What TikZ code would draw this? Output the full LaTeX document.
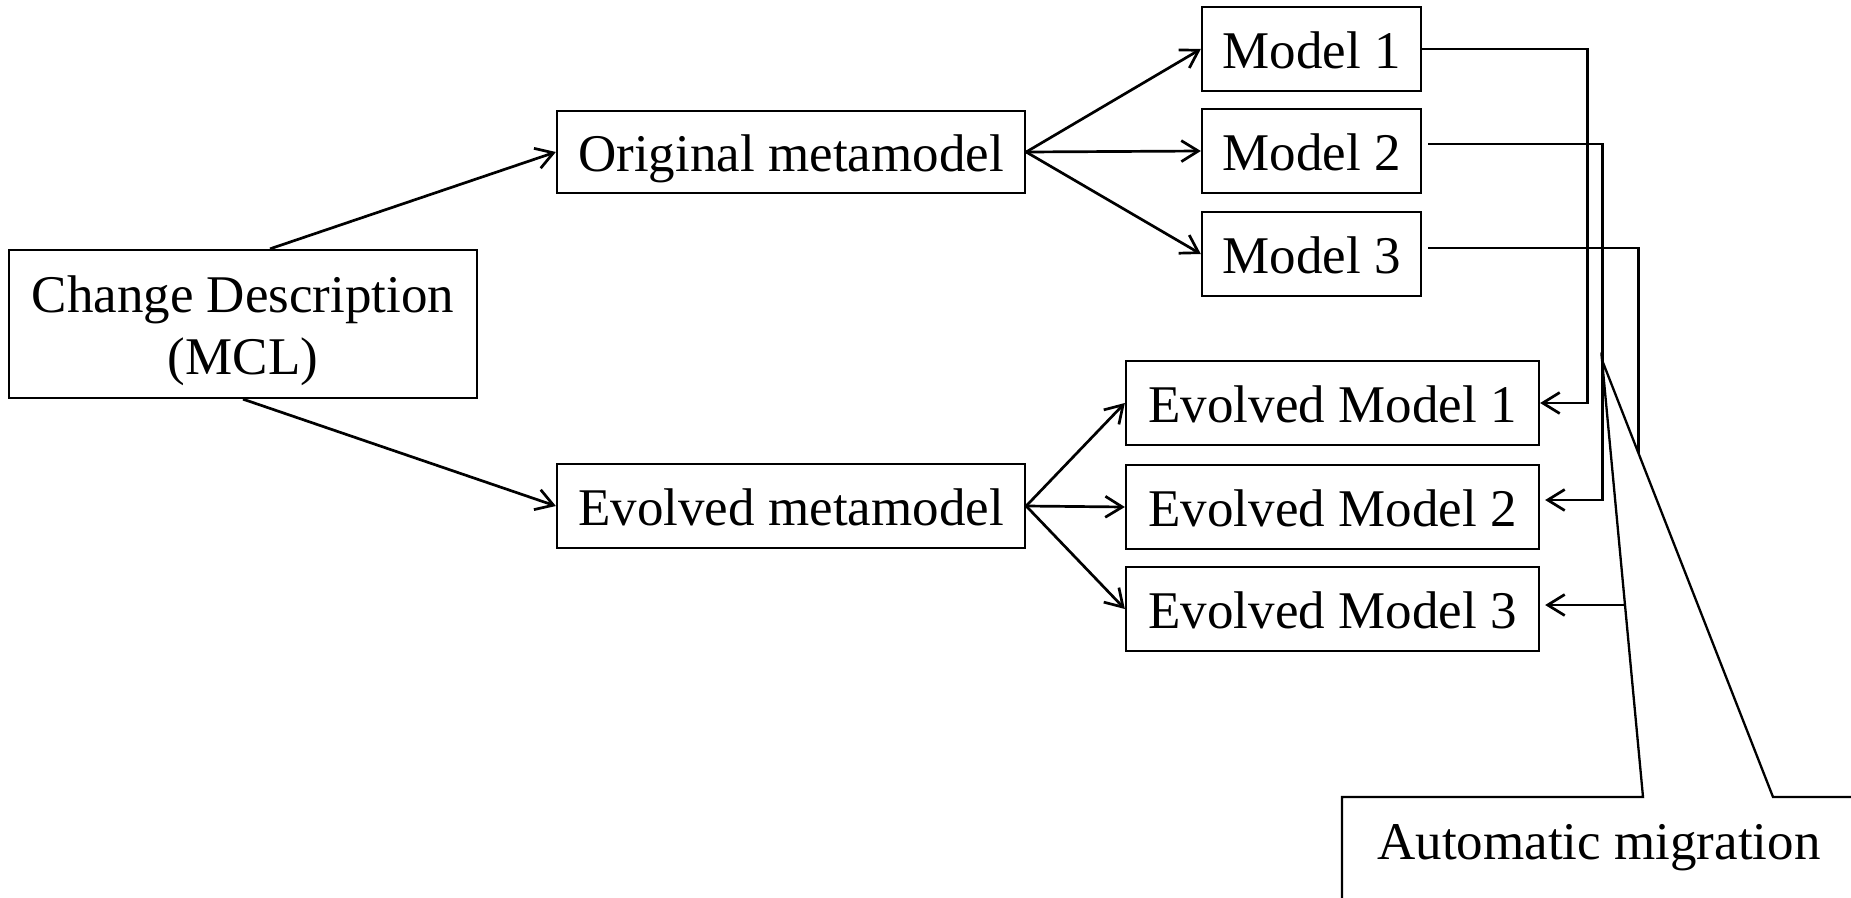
\documentclass[tikz,border=0pt]{standalone}
\usepackage{fontspec}
\setmainfont{Liberation Serif}
\usetikzlibrary{arrows.meta,calc}

\tikzset{
  box/.style={draw, line width=2.3pt, inner sep=0pt, text height=39pt, text depth=0pt,
              font=\fontsize{53}{62}\selectfont},
  link/.style={line width=2.7pt, -{Straight Barb[length=17pt,width=21pt]}},
  plain/.style={line width=2.7pt},
  labeltext/.style={inner sep=0pt, font=\fontsize{53}{62}\selectfont}
}

\begin{document}
\begin{tikzpicture}[x=1pt, y=-1pt]
  \clip (0,0) rectangle (1851,897);
  \fill[white] (0,0) rectangle (1851,897);

  % source of the change: frame and its two-line caption
  \node[draw, line width=2.3pt, inner sep=0pt,
        minimum width=468pt, minimum height=148pt] (cd) at (243,324) {};
  \node[labeltext, align=center] (cdtext) at ($(cd.center)+(0,7)$)
        {Change Description\\(MCL)};

  % metamodels
  \node[box, minimum width=468pt, minimum height=82pt] (om) at (791,152) {Original metamodel};
  \node[box, minimum width=468pt, minimum height=84pt] (emm) at (791,506) {Evolved metamodel};

  % original models
  \node[box, minimum width=219pt, minimum height=84pt] (m1) at (1311.5,49) {Model 1};
  \node[box, minimum width=219pt, minimum height=84pt] (m2) at (1311.5,151) {Model 2};
  \node[box, minimum width=219pt, minimum height=84pt] (m3) at (1311.5,254) {Model 3};

  % evolved models
  \node[box, minimum width=413pt, minimum height=84pt] (e1) at (1332.5,403) {Evolved Model 1};
  \node[box, minimum width=413pt, minimum height=84pt] (e2) at (1332.5,507) {Evolved Model 2};
  \node[box, minimum width=413pt, minimum height=84pt] (e3) at (1332.5,609) {Evolved Model 3};

  % change description to the metamodels
  \draw[link] ($(cd.north)+(27,0)$) -- (om.west);
  \draw[link] (cd.south) -- (emm.west);

  % metamodels to their models
  \draw[link] (om.east) -- (m1.west);
  \draw[link] (om.east) -- (m2.west);
  \draw[link] (om.east) -- (m3.west);
  \draw[link] (emm.east) -- (e1.west);
  \draw[link] (emm.east) -- (e2.west);
  \draw[link] (emm.east) -- (e3.west);

  % migration of each model
  \draw[link] (m1.east) -- ++(165,0) |- (e1.east);
  \draw[link] ($(m2.east)+(6,-7)$) -- ++(174.5,0) |- ($(e2.east)+(5,-7)$);
  \draw[link] ($(m3.east)+(6,-6)$) -- ++(210,0) |- ($(e3.east)+(5,-4)$);

  % callout with its pointer
  \draw[plain, line width=2.3pt, fill=white, line join=miter]
    (1342,940) -- (1342,797) -- (1643,797) -- (1602,360) -- (1773,797)
    -- (1880,797) -- (1880,940) -- cycle;
  \node[labeltext, anchor=base] (mig) at (1599,859) {Automatic migration};
\end{tikzpicture}
\end{document}
